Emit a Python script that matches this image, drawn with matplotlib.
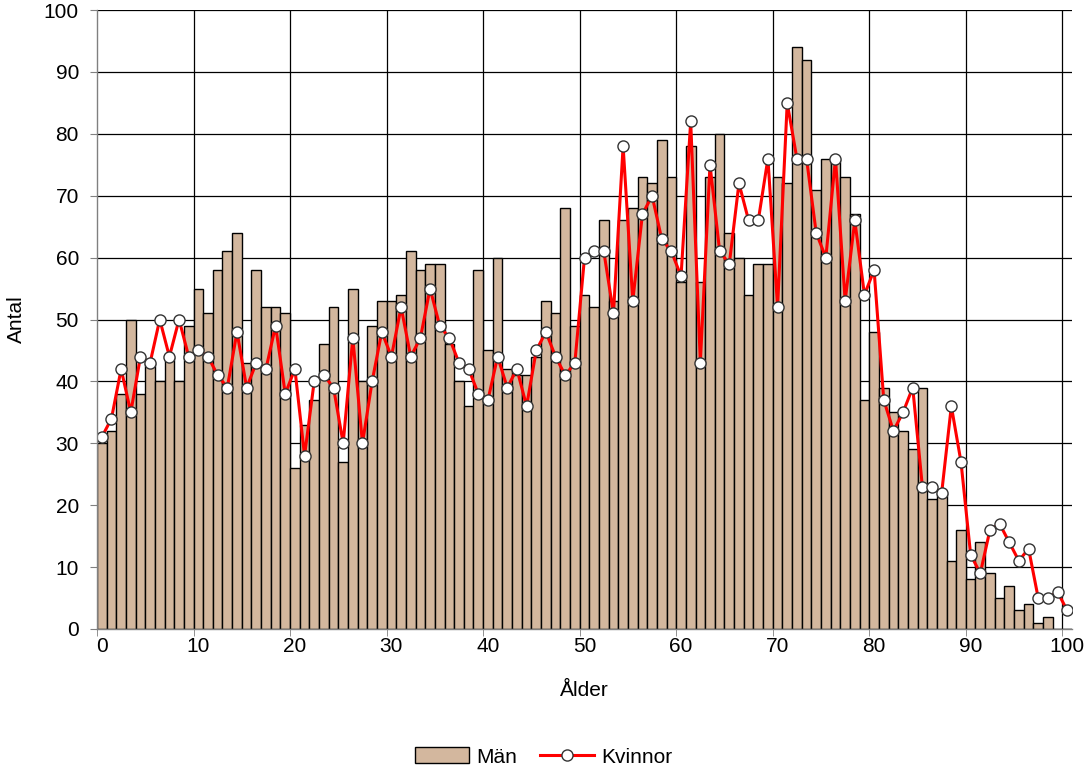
import matplotlib
matplotlib.use('Agg')
import matplotlib.pyplot as plt
import numpy as np

# age groups 0..100
ages = list(range(0, 101))

# men per age
man = [30, 32, 38, 50, 38, 43, 40, 44, 40, 49,
       55, 51, 58, 61, 64, 43, 58, 52, 52, 51,
       26, 33, 37, 46, 52, 27, 55, 40, 49, 53,
       53, 54, 61, 58, 59, 59, 46, 40, 36, 58,
       45, 60, 42, 41, 41, 44, 53, 51, 68, 49,
       54, 52, 66, 53, 66, 68, 73, 72, 79, 73,
       56, 78, 56, 73, 80, 64, 60, 54, 59, 59,
       73, 72, 94, 92, 71, 76, 76, 73, 67, 37,
       48, 39, 35, 32, 29, 39, 21, 22, 11, 16,
       8, 14, 9, 5, 7, 3, 4, 1, 2, 0, 0]

# women per age
kvinnor = [31, 34, 42, 35, 44, 43, 50, 44, 50, 44,
           45, 44, 41, 39, 48, 39, 43, 42, 49, 38,
           42, 28, 40, 41, 39, 30, 47, 30, 40, 48,
           44, 52, 44, 47, 55, 49, 47, 43, 42, 38,
           37, 44, 39, 42, 36, 45, 48, 44, 41, 43,
           60, 61, 61, 51, 78, 53, 67, 70, 63, 61,
           57, 82, 43, 75, 61, 59, 72, 66, 66, 76,
           52, 85, 76, 76, 64, 60, 76, 53, 66, 54,
           58, 37, 32, 35, 39, 23, 23, 22, 36, 27,
           12, 9, 16, 17, 14, 11, 13, 5, 5, 6, 3]

xticks = list(range(0, 101, 10))
yticks = list(range(0, 101, 10))

plt.rcParams['font.family'] = ['Liberation Sans', 'DejaVu Sans']

fig = plt.figure(figsize=(10.87, 7.69), dpi=100)
ax = fig.add_axes([97 / 1087, 1 - 629 / 769, (1072 - 97) / 1087, (629 - 10) / 769])

bars = ax.bar(ages, man, width=1.0, color='#D3B79E', edgecolor='black', linewidth=1.0,
              label='Män', zorder=2)
line, = ax.plot(ages, kvinnor, color='#FF0000', linewidth=2.2, marker='o', markersize=8,
                markerfacecolor='white', markeredgecolor='#333333', markeredgewidth=1.0,
                label='Kvinnor', zorder=3)

ax.set_xlim(-0.5, 100.5)
ax.set_ylim(0, 100)

# horizontal grid at every 10
ax.set_yticks(yticks)
ax.set_yticklabels([str(v) for v in yticks], fontsize=15)
ax.yaxis.grid(True, color='black', linewidth=0.9, zorder=0)

# vertical lines between categories
bounds = [v - 0.5 for v in range(10, 101, 10)]
for b in bounds:
	ax.axvline(b, color='black', linewidth=0.9, zorder=0)

ax.set_xticks(xticks)
ax.set_xticklabels([str(v) for v in xticks], fontsize=15)
ax.set_xticks([-0.5] + bounds, minor=True)
ax.tick_params(axis='x', which='major', length=0, pad=6)
ax.tick_params(axis='x', which='minor', length=5, color='#808080')
ax.tick_params(axis='y', length=5, color='#808080', pad=8)
ax.set_axisbelow(True)

for s in ['top', 'right']:
	ax.spines[s].set_visible(False)
for s in ['left', 'bottom']:
	ax.spines[s].set_color('#808080')
	ax.spines[s].set_linewidth(1.0)
	ax.spines[s].set_zorder(4)

ax.set_xlabel('Ålder', fontsize=15, labelpad=18)
ax.set_ylabel('Antal', fontsize=15, labelpad=13)

fig.legend([bars, line], ['Män', 'Kvinnor'], loc='center',
           bbox_to_anchor=(0.5, 1 - 757 / 769), ncol=2, frameon=False,
           fontsize=15, handlelength=2.6, handleheight=0.8, columnspacing=1.1,
           handletextpad=0.35, borderpad=0.1)

plt.savefig('out.png', dpi=100)
